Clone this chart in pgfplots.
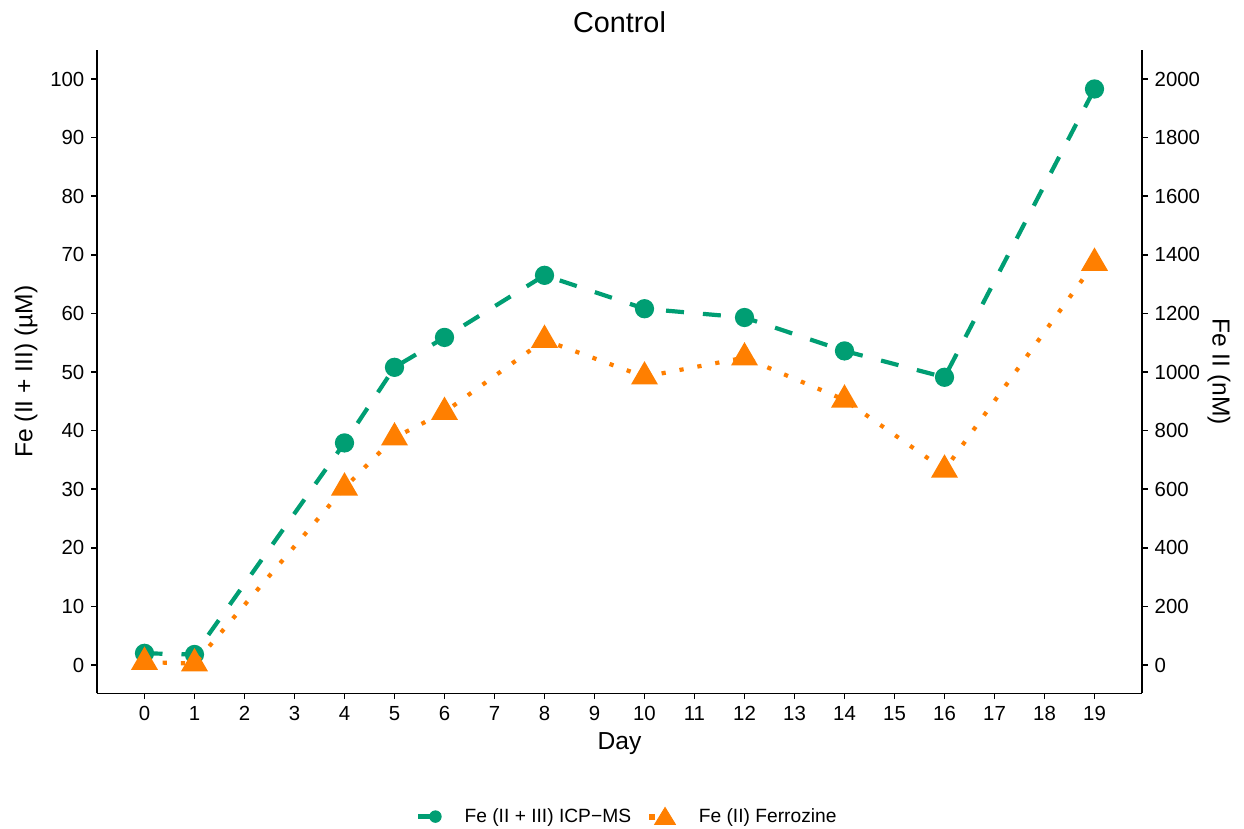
\documentclass[border=0pt]{standalone}
\usepackage{pgfplots}
\pgfplotsset{compat=1.18}
\usepackage{fontspec}
\setmainfont{Liberation Sans}

\definecolor{icpgreen}{HTML}{009E73}
\definecolor{ferroorange}{HTML}{FF7F00}

% Total iron (ICP-MS), uM
\pgfplotstableread{
day  fe
0    2.0
1    1.8
4    37.9
5    50.8
6    55.9
8    66.5
10   60.8
12   59.3
14   53.6
16   49.1
19   98.3
}\icpms

% Ferrous iron (Ferrozine), nM
\pgfplotstableread{
day  fe
0    10
1    5
4    605
5    776
6    863
8    1109
10   984
12   1049
14   905
16   666
19   1372
}\ferrozine

\pgfplotsset{
  common/.style={
    scale only axis,
    width=522.5pt, height=321.75pt,
    at={(0,0)}, anchor=south west,
    xmin=-0.95, xmax=19.95,
    axis line style={-, line width=0.85pt, black},
    tick style={line width=0.85pt, black},
    tick align=outside,
    major tick length=2.8pt,
    /pgf/number format/assume math mode=true,
    /pgf/number format/1000 sep={},
    ticklabel style={font=\fontsize{10.2}{12}\selectfont},
    clip=false,
  },
}

\begin{document}
\begin{tikzpicture}
\useasboundingbox (-48.5pt,-67.75pt) rectangle (573.5pt,346.75pt);

% left axis: total iron
\begin{axis}[common,
  axis x line*=bottom, axis y line*=left,
  ymin=-4.86, ymax=104.95,
  xtick={0,1,...,19}, ytick={0,10,...,100},
  xtick pos=bottom, ytick pos=left,
  legend columns=2,
  legend style={draw=none, fill=none, at={(0.5066,-0.1904)}, anchor=center,
    font=\fontsize{9.6}{11}\selectfont,
    nodes={inner sep=0pt},
    /tikz/every odd column/.append style={column sep=11.5pt},
    /tikz/every even column/.append style={column sep=9pt}},
  legend cell align=left,
]
\addplot[icpgreen, line width=2.1pt, dash pattern=on 9pt off 9.5pt,
  mark=*, mark size=3.75pt, mark options={solid, draw=none, fill=icpgreen},
  forget plot]
  table[x=day, y=fe] {\icpms};
\addlegendimage{legend image code/.code={
  \draw[icpgreen, line width=2.1pt] (0pt,0pt) -- (7pt,0pt);
  \fill[icpgreen] (8.5pt,0pt) circle (2.9pt);}}
\addlegendentry{Fe (II + III) ICP−MS}
\addlegendimage{legend image code/.code={
  \fill[ferroorange] (0pt,-1.2pt) rectangle (2.4pt,1.2pt);
  \fill[ferroorange] (7.8pt,4.6pt) -- (2.6pt,-3.9pt) -- (13pt,-3.9pt) -- cycle;}}
\addlegendentry{Fe (II) Ferrozine}
\end{axis}

% right axis: ferrous iron
\begin{axis}[common,
  axis x line=none, axis y line*=right,
  ymin=-97.2, ymax=2099,
  ytick={0,200,...,2000}, ytick pos=right,
]
\addplot[ferroorange, line width=2.1pt, dash pattern=on 2.1pt off 7pt,
  mark=triangle*, mark size=5.7pt, mark options={solid, draw=none, fill=ferroorange}]
  table[x=day, y=fe] {\ferrozine};
\end{axis}

% title and axis titles (axis box spans 0..522.5pt by 0..321.75pt)
\node[anchor=base, font=\fontsize{14.4}{17}\selectfont]
  at (261.25pt,330.45pt) {Control};
\node[anchor=base, font=\fontsize{12.3}{14}\selectfont]
  at (261.25pt,-27.9pt) {Day};
\node[anchor=base, rotate=90, font=\fontsize{12.3}{14}\selectfont]
  at (-32.3pt,160.9pt) {Fe (II + III) (µM)};
\node[anchor=base, rotate=-90, font=\fontsize{12.3}{14}\selectfont]
  at (557.85pt,160.9pt) {Fe II (nM)};
\end{tikzpicture}
\end{document}
